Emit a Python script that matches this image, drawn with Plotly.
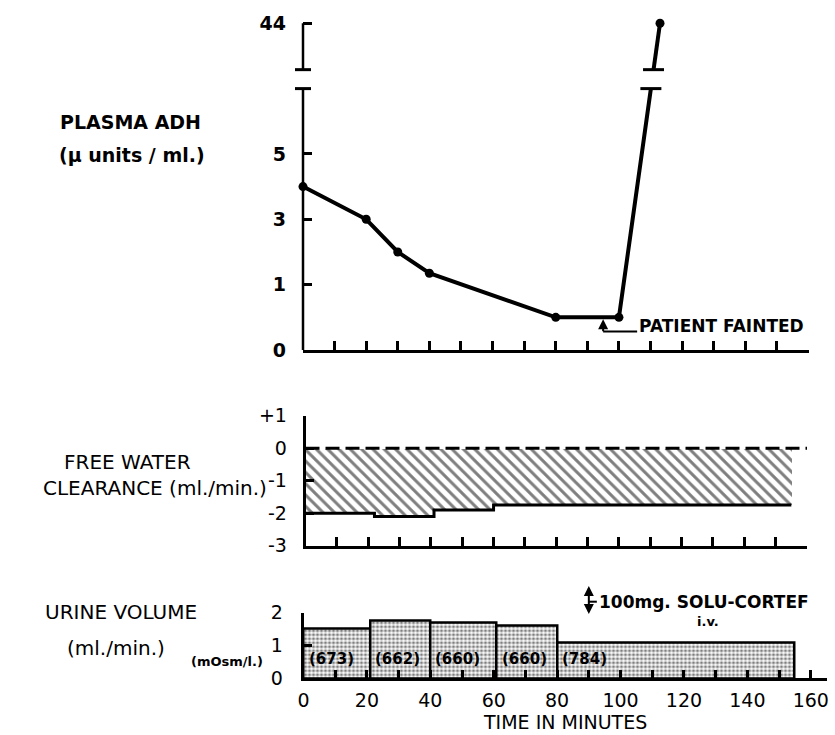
import plotly.graph_objects as go

W, H = 835, 735

# ---------------- data ----------------
adh_minutes = [0, 20, 30, 40, 80, 100, 113]
adh_values = [4.0, 3.0, 2.0, 1.35, 0.5, 0.5, 44.0]
adh_tick_values = [0, 1, 3, 5, 44]

fwc_period_edges = [0, 22, 41, 60, 155]
fwc_values = [-2.0, -2.1, -1.9, -1.75]
fwc_tick_values = [1, 0, -1, -2, -3]
fwc_tick_labels = ["+1", "0", "-1", "-2", "-3"]

urine_period_edges = [0, 21, 40, 61, 80, 155]
urine_volume = [1.5, 1.75, 1.7, 1.6, 1.1]
urine_osmolality = [673, 662, 660, 660, 784]
urine_tick_values = [0, 1, 2]

time_tick_values = list(range(0, 161, 20))
fainted_minute = 95
cortef_minute = 90

# ---------------- helpers ----------------
FONT = "DejaVu Sans"


def px_x(p):
    return p / W


def px_y(p):
    return 1 - p / H


# broken / stretched ADH axis (0-1 stretched, 1-7 compressed, break, 40-44)
BREAK_LOW, BREAK_HIGH = 7.0, 40.0


def adh_scale(v):
    if v <= 1:
        return v
    if v <= BREAK_LOW:
        return 1 + (v - 1) / 2
    return 4.29 + (v - BREAK_HIGH) * 0.1775


t_low, t_high = adh_scale(BREAK_LOW), adh_scale(BREAK_HIGH)

lo_x, lo_y, hi_x, hi_y, cap_x, cap_y = [], [], [], [], [], []
for i, (m, v) in enumerate(zip(adh_minutes, adh_values)):
    if v <= BREAK_LOW:
        lo_x.append(m)
        lo_y.append(adh_scale(v))
    else:
        pm, pv = adh_minutes[i - 1], adh_values[i - 1]
        if pv <= BREAK_LOW:
            ta, tb = adh_scale(pv), adh_scale(v)
            xl = pm + (m - pm) * (t_low - ta) / (tb - ta)
            xh = pm + (m - pm) * (t_high - ta) / (tb - ta)
            lo_x.append(xl)
            lo_y.append(t_low)
            hi_x.append(xh)
            hi_y.append(t_high)
            cap_x += [xl, xh]
            cap_y += [t_low, t_high]
        hi_x.append(m)
        hi_y.append(adh_scale(v))


def mids(edges):
    return [(a + b) / 2 for a, b in zip(edges[:-1], edges[1:])]


def widths(edges):
    return [b - a for a, b in zip(edges[:-1], edges[1:])]


LW = 2.5
fig = go.Figure()

# ---------------- top panel: plasma ADH ----------------
fig.add_trace(go.Scatter(x=lo_x, y=lo_y, mode="lines", line=dict(color="black", width=4),
                         xaxis="x", yaxis="y", hoverinfo="skip"))
fig.add_trace(go.Scatter(x=hi_x, y=hi_y, mode="lines", line=dict(color="black", width=4),
                         xaxis="x", yaxis="y", hoverinfo="skip"))
fig.add_trace(go.Scatter(x=cap_x, y=cap_y, mode="markers",
                         marker=dict(symbol="line-ew", size=15, line=dict(color="black", width=3)),
                         xaxis="x", yaxis="y", cliponaxis=False))
fig.add_trace(go.Scatter(x=adh_minutes, y=[adh_scale(v) for v in adh_values], mode="markers",
                         marker=dict(color="black", size=9), xaxis="x", yaxis="y", cliponaxis=False))

# ---------------- middle panel: free water clearance ----------------
fig.add_trace(go.Bar(x=mids(fwc_period_edges), y=fwc_values, width=widths(fwc_period_edges), base=0,
                     marker=dict(color="white", line=dict(width=0),
                                 pattern=dict(shape="\\", fgcolor="black", bgcolor="white",
                                              size=8, solidity=0.38)),
                     xaxis="x2", yaxis="y2"))
fig.add_trace(go.Scatter(x=fwc_period_edges, y=fwc_values + [fwc_values[-1]], mode="lines",
                         line=dict(color="black", width=3, shape="hv"), xaxis="x2", yaxis="y2"))
fig.add_trace(go.Scatter(x=[0, 160], y=[0, 0], mode="lines",
                         line=dict(color="black", width=3, dash="14px,6px"), xaxis="x2", yaxis="y2"))

# ---------------- bottom panel: urine volume ----------------
fig.add_trace(go.Bar(x=mids(urine_period_edges), y=urine_volume, width=widths(urine_period_edges),
                     marker=dict(color="white", line=dict(color="black", width=LW),
                                 pattern=dict(shape=".", fgcolor="black", bgcolor="white",
                                              size=4, solidity=0.5)),
                     xaxis="x3", yaxis="y3"))

# ---------------- axes ----------------
tick_font = dict(family=FONT, size=19, color="black")
common = dict(showgrid=False, zeroline=False, linecolor="black", linewidth=LW,
              tickcolor="black", tickwidth=LW, ticklen=9, ticks="inside")

fig.update_layout(
    width=W, height=H, margin=dict(l=0, r=0, t=0, b=0, autoexpand=False),
    paper_bgcolor="white", plot_bgcolor="rgba(0,0,0,0)", showlegend=False, bargap=0,
    xaxis=dict(domain=[px_x(303), px_x(808.5)], range=[0, 160], anchor="y", showline=True,
               tickmode="linear", tick0=0, dtick=10, showticklabels=False, **common),
    yaxis=dict(domain=[px_y(350), px_y(350 - 5.05 * 65.35)], range=[0, 5.05], anchor="x",
               showline=False, tickmode="array",
               tickvals=[adh_scale(v) for v in adh_tick_values],
               ticktext=[str(v) for v in adh_tick_values],
               tickfont=dict(family=FONT, size=19, color="black", weight="bold"),
               ticklabelstandoff=16, **common),
    xaxis2=dict(domain=[px_x(305.5), px_x(807)], range=[0, 160], anchor="y2", showline=True,
                tickmode="linear", tick0=0, dtick=10, showticklabels=False, **common),
    yaxis2=dict(domain=[px_y(545.7), px_y(415.7)], range=[-3, 1], anchor="x2", showline=True,
                tickmode="array", tickvals=fwc_tick_values, ticktext=fwc_tick_labels,
                tickfont=tick_font, ticklabelstandoff=12, **common),
    xaxis3=dict(domain=[px_x(303.5), px_x(826.6)], range=[0, 165], anchor="y3", showline=True,
                tickmode="array", tickvals=time_tick_values,
                ticktext=[str(v) for v in time_tick_values],
                tickfont=dict(family=FONT, size=19, color="black"), ticklabelstandoff=3,
                minor=dict(ticks="inside", tick0=0, dtick=10, ticklen=9, tickwidth=LW,
                           tickcolor="black"),
                **common),
    yaxis3=dict(domain=[px_y(678.3), px_y(612.7)], range=[0, 2], anchor="x3", showline=True,
                tickmode="array", tickvals=urine_tick_values,
                ticktext=[str(v) for v in urine_tick_values],
                tickfont=tick_font, ticklabelstandoff=14, **common),
)

# ---------------- broken ADH axis drawn as shapes ----------------
ax_x = px_x(303)
cap = 8 / W
shapes = [
    dict(type="line", xref="paper", yref="y", x0=ax_x, x1=ax_x, y0=0, y1=t_low,
         line=dict(color="black", width=LW)),
    dict(type="line", xref="paper", yref="y", x0=ax_x, x1=ax_x, y0=t_high, y1=adh_scale(44),
         line=dict(color="black", width=LW)),
    dict(type="line", xref="paper", yref="y", x0=ax_x - cap, x1=ax_x + cap, y0=t_low, y1=t_low,
         line=dict(color="black", width=3)),
    dict(type="line", xref="paper", yref="y", x0=ax_x - cap, x1=ax_x + cap, y0=t_high, y1=t_high,
         line=dict(color="black", width=3)),
    # "patient fainted" connector
    dict(type="line", xref="x", yref="y", xsizemode="pixel", xanchor=fainted_minute,
         x0=0, x1=34, y0=0.283, y1=0.283, line=dict(color="black", width=2)),
    # solu-cortef connector
    dict(type="line", xref="x3", yref="paper", xsizemode="pixel", xanchor=cortef_minute,
         x0=0, x1=8, y0=px_y(601.7), y1=px_y(601.7), line=dict(color="black", width=2)),
]
fig.update_layout(shapes=shapes)

ann = []


def label(text, x, y, size=18, anchor="center", weight="normal", yanchor="middle"):
    ann.append(dict(text=text, x=px_x(x), y=px_y(y), xref="paper", yref="paper",
                    xanchor=anchor, yanchor=yanchor, showarrow=False, borderpad=0,
                    font=dict(family=FONT, size=size, color="black", weight=weight)))


label("PLASMA ADH", 130, 122, 19, weight="bold")
label("(\u03bc units / ml.)", 132, 155, 19, weight="bold")
label("FREE WATER", 127, 462, 20)
label("CLEARANCE (ml./min.)", 268, 488, 20, anchor="right")
label("URINE VOLUME", 121, 612, 20)
label("(ml./min.)", 116, 648, 20)
label("(mOsm/l.)", 227, 661, 13, weight="bold")
label("TIME IN MINUTES", 565, 722, 19)

# patient fainted arrow + text
ann.append(dict(text=" ", x=fainted_minute, y=0.47, xref="x", yref="y", showarrow=True,
                ax=0, ay=13, arrowhead=2, arrowsize=1, arrowwidth=2, arrowcolor="black",
                font=dict(size=1), borderpad=0, standoff=0))
ann.append(dict(text="PATIENT FAINTED", x=fainted_minute, y=0.283, xref="x", yref="y",
                xanchor="left", yanchor="middle", xshift=34, yshift=6, showarrow=False,
                font=dict(family=FONT, size=17, color="black", weight="bold")))

# solu-cortef double arrow + text
ann.append(dict(text=" ", x=cortef_minute, y=px_y(586), xref="x3", yref="paper", showarrow=True,
                ax=0, ay=29, arrowhead=2, startarrowhead=2, arrowside="end+start", arrowsize=1,
                arrowwidth=2, arrowcolor="black", font=dict(size=1), borderpad=0,
                standoff=0, startstandoff=0))
ann.append(dict(text="100mg. SOLU-CORTEF", x=cortef_minute, y=px_y(601.7), xref="x3",
                yref="paper", xanchor="left", yanchor="middle", xshift=8, showarrow=False,
                font=dict(family=FONT, size=17, color="black", weight="bold")))
ann.append(dict(text="i.v.", x=cortef_minute, y=px_y(621.7), xref="x3", yref="paper",
                xanchor="center", yanchor="middle", xshift=119, showarrow=False,
                font=dict(family=FONT, size=13, color="black", weight="bold")))

# osmolality labels
for left, osm in zip(urine_period_edges[:-1], urine_osmolality):
    ann.append(dict(text=f"({osm})", x=left, y=0.6, xref="x3", yref="y3", xanchor="left",
                    yanchor="middle", xshift=3, showarrow=False,
                    font=dict(family=FONT, size=15, color="black", weight="bold")))

fig.update_layout(annotations=ann)

fig.write_html(
    "out.html",
    config={"displayModeBar": False},
    post_script=(
        "var h=document.documentElement.style;h.margin='0';h.padding='0';"
        "h.overflow='hidden';h.height='735px';h.width='835px';"
        "var b=document.body.style;b.margin='0';b.padding='0';b.overflow='hidden';"
        "b.height='735px';b.width='835px';b.fontSize='0';b.lineHeight='0';"
    ),
)
